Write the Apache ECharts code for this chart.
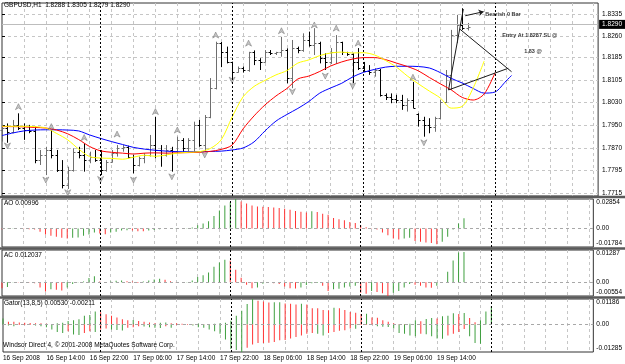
<!DOCTYPE html>
<html>
<head>
<meta charset="utf-8">
<script src="https://cdn.jsdelivr.net/npm/echarts@6/dist/echarts.min.js"></script>
<style>
  html, body { margin: 0; padding: 0; background: #fff; }
  #chart { width: 625px; height: 364px; }
</style>
</head>
<body>
<div id="chart"></div>
<script>
// GBPUSD H1, 16-19 Sep 2008, bars indexed from 16 Sep 06:00
const open = [1.7934,1.7941,1.7927,1.7952,1.7941,1.7934,1.7931,1.7830,1.7848,1.7865,
  1.7848,1.7796,1.7744,1.7796,1.7858,1.7848,1.7830,1.7841,1.7830,1.7796,
  1.7823,1.7855,1.7872,1.7875,1.7841,1.7813,1.7837,1.7848,1.7882,1.7865,
  1.7848,1.7865,1.7860,1.7900,1.7872,1.7900,1.7952,1.7882,1.7979,1.8080,
  1.8236,1.8204,1.8170,1.8135,1.8149,1.8142,1.8204,1.8177,1.8170,1.8204,
  1.8201,1.8204,1.8211,1.8114,1.8218,1.8211,1.8246,1.8229,1.8235,1.8184,
  1.8170,1.8204,1.8239,1.8204,1.8198,1.8170,1.8149,1.8140,1.8135,1.8142,
  1.8056,1.8049,1.8042,1.8038,1.8021,1.8038,1.7990,1.7969,1.7952,1.7945,
  1.7976,1.8031,1.8125,1.8263,1.8298,1.8288];
const high = [1.7952,1.7957,1.7969,1.7992,1.7957,1.7952,1.7946,1.7865,1.7876,1.7934,
  1.7865,1.7830,1.7807,1.7871,1.7876,1.7888,1.7859,1.7865,1.7865,1.7830,
  1.7865,1.7882,1.7882,1.7880,1.7848,1.7842,1.7854,1.7917,1.7980,1.7882,
  1.7882,1.7876,1.7911,1.7906,1.7906,1.7963,1.7969,1.7986,1.8114,1.8240,
  1.8239,1.8223,1.8171,1.8154,1.8154,1.8205,1.8210,1.8183,1.8211,1.8211,
  1.8205,1.8257,1.8217,1.8246,1.8223,1.8269,1.8275,1.8287,1.8240,1.8200,
  1.8218,1.8263,1.8240,1.8205,1.8200,1.8218,1.8170,1.8159,1.8148,1.8146,
  1.8061,1.8061,1.8056,1.8056,1.8044,1.8101,1.7992,1.7980,1.7975,1.7980,
  1.8038,1.8142,1.8281,1.8333,1.8356,1.8305];
const low = [1.7894,1.7890,1.7923,1.7934,1.7900,1.7923,1.7819,1.7813,1.7778,1.7836,
  1.7789,1.7732,1.7730,1.7790,1.7836,1.7790,1.7819,1.7824,1.7778,1.7790,
  1.7822,1.7842,1.7859,1.7836,1.7784,1.7808,1.7819,1.7842,1.7836,1.7807,
  1.7842,1.7790,1.7854,1.7859,1.7859,1.7859,1.7876,1.7859,1.7975,1.8075,
  1.8152,1.8165,1.8113,1.8133,1.8133,1.8136,1.8159,1.8142,1.8168,1.8194,
  1.8194,1.8188,1.8096,1.8079,1.8200,1.8205,1.8223,1.8194,1.8165,1.8142,
  1.8163,1.8163,1.8194,1.8191,1.8096,1.8142,1.8135,1.8125,1.8119,1.8050,
  1.8038,1.8027,1.8027,1.8004,1.7998,1.8010,1.7946,1.7911,1.7923,1.7928,
  1.7972,1.8028,1.8073,1.8235,1.8281,1.8279];
const close = [1.7941,1.7927,1.7952,1.7941,1.7934,1.7931,1.7830,1.7848,1.7865,1.7848,
  1.7796,1.7744,1.7796,1.7858,1.7848,1.7830,1.7841,1.7830,1.7796,1.7823,
  1.7855,1.7872,1.7875,1.7841,1.7813,1.7837,1.7848,1.7882,1.7865,1.7848,
  1.7865,1.7860,1.7900,1.7872,1.7900,1.7952,1.7882,1.7979,1.8080,1.8236,
  1.8204,1.8170,1.8135,1.8149,1.8142,1.8204,1.8177,1.8170,1.8204,1.8201,
  1.8204,1.8211,1.8114,1.8218,1.8211,1.8246,1.8229,1.8235,1.8184,1.8170,
  1.8204,1.8239,1.8204,1.8198,1.8170,1.8149,1.8140,1.8135,1.8142,1.8056,
  1.8049,1.8042,1.8038,1.8021,1.8038,1.8012,1.7969,1.7952,1.7945,1.7976,
  1.8031,1.8125,1.8263,1.8298,1.8288,1.8290];

// Alligator lines (shifted forward), sampled every 2 bars
const jawIdx = [0,2,4,6,8,10,12,14,16,18,20,22,24,26,28,30,32,34,36,38,40,42,44,46,48,
  50,52,54,56,58,60,62,64,66,68,70,72,74,76,78,80,82,84,86,88,90,92,93];
const jaw = [1.7915,1.7924,1.7931,1.7934,1.7935,1.7935,1.7934,1.7931,1.7917,1.7905,
  1.7894,1.7884,1.7874,1.7868,1.7864,1.7861,1.7859,1.7859,1.7859,1.7860,
  1.7861,1.7865,1.7872,1.7893,1.7931,1.7965,1.7988,1.8009,1.8033,1.8062,
  1.8080,1.8096,1.8118,1.8134,1.8144,1.8152,1.8155,1.8155,1.8154,1.8149,
  1.8133,1.8113,1.8097,1.8078,1.8062,1.8066,1.8104,1.8123];
const teethIdx = [0,2,4,6,8,10,12,14,16,18,20,22,24,26,28,30,32,34,36,38,40,42,44,46,48,
  50,52,54,56,58,60,62,64,66,68,70,72,74,76,78,80,82,84,86,88,90];
const teeth = [1.7946,1.7946,1.7945,1.7943,1.7941,1.7934,1.7921,1.7901,1.7877,1.7862,
  1.7857,1.7854,1.7851,1.7854,1.7855,1.7854,1.7855,1.7856,1.7857,1.7860,
  1.7867,1.7882,1.7938,1.7983,1.8021,1.8052,1.8078,1.8111,1.8121,1.8137,
  1.8156,1.8170,1.8180,1.8185,1.8185,1.8178,1.8166,1.8154,1.8139,1.8116,
  1.8094,1.8073,1.8047,1.8038,1.8059,1.8133];
const lipsIdx = [0,2,4,6,8,10,12,14,16,18,20,22,24,26,28,30,32,34,36,38,40,42,44,46,48,
  50,52,54,56,58,60,62,64,66,68,70,72,74,76,78,80,82,84,86,88];
const lips = [1.7947,1.7947,1.7947,1.7946,1.7941,1.7922,1.7900,1.7868,1.7842,1.7837,
  1.7836,1.7833,1.7840,1.7847,1.7843,1.7848,1.7854,1.7857,1.7859,1.7870,
  1.7900,1.7979,1.8049,1.8085,1.8106,1.8125,1.8140,1.8166,1.8177,1.8192,
  1.8201,1.8204,1.8201,1.8202,1.8194,1.8175,1.8152,1.8121,1.8094,1.8069,
  1.8045,1.8010,1.8016,1.8080,1.8173];

// Fractal arrows
const fracUpIdx = [3, 9, 15, 21, 28, 32, 39, 45, 51, 57, 61, 65, 75];
const fracUp = [1.8015,1.7946,1.7908,1.7920,1.7998,1.7934,1.8263,1.8235,1.8278,1.8298,1.8287,1.8235,1.8117];
const fracDnIdx = [1, 8, 12, 18, 24, 31, 37, 42, 53, 59, 64, 77];
const fracDn = [1.7879,1.7761,1.7717,1.7763,1.7761,1.7772,1.7848,1.8107,1.8067,1.8121,1.8087,1.7890];

// Hand-drawn objects
const trendLines = [
  [[81.5, 1.8073], [84.2, 1.8353]],
  [[83.6, 1.8283], [93.0, 1.8136]],
  [[81.5, 1.8073], [92.4, 1.8148]]
];
const arrowLine = [[84.55, 1.8330], [87.9, 1.8344]];
const noteText = ['Bearish 0 Bar', 'Entry At 1.8287 SL @', '1.83 @'];
const noteAt = [[88.2, 1.8333], [91.3, 1.8263], [95.3, 1.8205]];
const lastPrice = 1.8290;

// Indicators
const ao = [-0.0006,-0.0003,-0.0002,0.0001,-0.0002,-0.0006,-0.0010,-0.0032,-0.0057,-0.0070,
  -0.0080,-0.0089,-0.0096,-0.0089,-0.0086,-0.0070,-0.0057,-0.0038,-0.0048,-0.0054,
  -0.0038,-0.0032,-0.0019,-0.0016,-0.0019,-0.0026,-0.0027,-0.0019,-0.0013,-0.0006,
  -0.0003,-0.0005,-0.0003,0.0000,0.0003,0.0010,0.0032,0.0048,0.0070,0.0121,
  0.0175,0.0223,0.0255,0.02854,0.0262,0.0242,0.0223,0.0214,0.0211,0.0207,
  0.0204,0.0198,0.0191,0.0182,0.0169,0.0163,0.0156,0.0166,0.0160,0.0144,
  0.0134,0.0102,0.0089,0.0080,0.0064,0.0054,0.0032,0.0013,0.0003,-0.0010,
  -0.0038,-0.0064,-0.0096,-0.0105,-0.0096,-0.0089,-0.0121,-0.0128,-0.0134,-0.0140,
  -0.0153,-0.0128,-0.0080,-0.0010,0.0048,0.00996];
const ac = [-0.0024,-0.0019,-0.0001,-0.0001,0.0000,-0.0001,-0.0004,-0.0021,-0.0037,-0.0028,
  -0.0030,-0.0033,-0.0021,-0.0007,0.0001,0.0003,0.0017,0.0024,0.0003,0.0001,
  0.0003,0.0006,0.0007,0.0004,0.0003,-0.0003,0.0003,0.0007,0.0011,0.0014,
  0.0010,0.0004,0.0001,0.0000,0.0001,0.0007,0.0021,0.0028,0.0039,0.0062,
  0.0079,0.0090,0.0086,0.0050,0.0018,-0.0010,-0.0024,-0.0021,-0.0006,-0.0001,
  -0.0004,-0.0007,-0.0017,-0.0024,-0.0025,-0.0021,-0.0011,-0.0004,-0.0003,-0.0014,
  -0.0035,-0.0028,-0.0026,-0.0021,-0.0017,-0.0014,-0.0042,-0.0046,-0.0035,-0.0039,
  -0.0044,-0.0055,-0.0042,-0.0035,-0.0021,-0.0007,-0.0010,-0.0014,-0.0021,-0.0022,
  -0.0014,-0.0001,0.0042,0.0087,0.0119,0.012037];
const gatorUp = [0.0028,0.0013,0.0012,0.0009,0.0008,0.0007,0.0006,0.0005,0.0003,0.0002,
  0.0005,0.0008,0.0016,0.0019,0.0024,0.0040,0.0044,0.0060,0.0057,0.0047,
  0.0040,0.0032,0.0024,0.0019,0.0021,0.0016,0.0013,0.0009,0.0006,0.0008,
  0.0009,0.0006,0.0005,0.0003,0.0002,0.0001,0.0003,0.0002,0.0001,0.0003,
  0.0006,0.0008,0.0017,0.0040,0.0064,0.0095,0.01186,0.0110,0.0107,0.0102,
  0.0103,0.0104,0.0098,0.0097,0.0093,0.0096,0.0093,0.0076,0.0075,0.0067,
  0.0066,0.0078,0.0075,0.0067,0.0058,0.0054,0.0049,0.0050,0.0032,0.0031,
  0.0019,0.0013,0.0005,0.0002,0.0002,0.0003,0.0019,0.0015,0.0025,0.0030,
  0.0028,0.0038,0.0040,0.0052,0.0049,0.0053,0.0030,0.0010,0.0020,0.0060,
  0.0085];
const gatorDn = [-0.0002,-0.0005,-0.0008,-0.0003,-0.0003,-0.0003,-0.0005,-0.0008,-0.0013,-0.0024,
  -0.0035,-0.0040,-0.0032,-0.0047,-0.0049,-0.0040,-0.0032,-0.0035,-0.0024,-0.0019,
  -0.0024,-0.0026,-0.0028,-0.0016,-0.0013,-0.0008,-0.0010,-0.0013,-0.0016,-0.0017,
  -0.0008,-0.0016,-0.0003,-0.0002,-0.0001,-0.0005,-0.0013,-0.0016,-0.0024,-0.0032,
  -0.0043,-0.0070,-0.0114,-0.0119,-0.01285,-0.0109,-0.0093,-0.0087,-0.0086,-0.0085,
  -0.0082,-0.0074,-0.0072,-0.0066,-0.0058,-0.0051,-0.0043,-0.0040,-0.0043,-0.0051,
  -0.0040,-0.0035,-0.0030,-0.0027,-0.0019,-0.0020,-0.0003,-0.0003,-0.0001,-0.0008,
  -0.0011,-0.0012,-0.0019,-0.0040,-0.0043,-0.0051,-0.0055,-0.0043,-0.0046,-0.0055,
  -0.0066,-0.0067,-0.0051,-0.0043,-0.0035,-0.00211,-0.0055,-0.0087,-0.0090];

// Axes
const priceTicks = [1.7715, 1.7795, 1.7870, 1.7950, 1.8030, 1.8105, 1.8185, 1.8260, 1.8335];
const priceRange = [1.77056, 1.83741];
const aoRange = [-0.01784, 0.02854];
const acRange = [-0.00554, 0.01287];
const gatorRange = [-0.01285, 0.01186];
const timeIdx = [0, 8, 16, 24, 32, 40, 48, 56, 64, 72, 80];
const timeText = ['16 Sep 2008', '16 Sep 14:00', '16 Sep 22:00', '17 Sep 06:00', '17 Sep 14:00',
  '17 Sep 22:00', '18 Sep 06:00', '18 Sep 14:00', '18 Sep 22:00', '19 Sep 06:00', '19 Sep 14:00'];
const daySep = [18, 42, 66, 90];
const SLOTS = 108.8;

const FONT = 'Liberation Sans, Arial, sans-serif';
const NARROW = 'Liberation Sans Narrow, Liberation Sans, sans-serif';
const GREEN = '#3f9f3f';
const RED = '#ff3434';
const GRID_LINE = { type: [3, 3], color: '#c6c6c6', width: 1 };
const SEP_LINE = { type: [2, 2], color: '#000', width: 1 };
const ZERO_LINE = { type: [3, 3], color: '#a8a8a8', width: 1 };
const TXT = { fontSize: 6.5, color: '#000', fontFamily: FONT, fontWeight: 'normal' };

const gridLines = [];
for (let k = 4; k <= 108; k += 4) gridLines.push(k);

const chart = echarts.init(document.getElementById('chart'));

const panels = [
  { top: 3, height: 193 },
  { top: 199, height: 48 },
  { top: 250, height: 46 },
  { top: 299, height: 53 }
];

const xAxes = panels.map((p, g) => ({
  type: 'value', gridIndex: g, min: 0, max: SLOTS,
  axisLine: { show: false },
  axisTick: { show: false, customValues: gridLines },
  splitLine: { show: true, lineStyle: GRID_LINE },
  axisLabel: g === 3 ? {
    customValues: timeIdx, align: 'left', margin: 3, ...TXT,
    formatter: v => timeText[timeIdx.indexOf(v)] || ''
  } : { show: false }
}));

// min label sits above the bottom edge, max label hangs below the top edge; zero comes from the markLine
function indicatorAxis(g, range, digits) {
  const ticks = [range[0], range[1]];
  return {
    type: 'value', gridIndex: g, position: 'right', min: range[0], max: range[1],
    axisLine: { show: false },
    axisTick: { show: false, customValues: ticks },
    splitLine: { show: false },
    axisLabel: {
      customValues: ticks, margin: 3, ...TXT,
      verticalAlignMinLabel: 'bottom', verticalAlignMaxLabel: 'top',
      formatter: v => v.toFixed(digits)
    }
  };
}

const yAxes = [
  {
    type: 'value', gridIndex: 0, position: 'right', min: priceRange[0], max: priceRange[1],
    axisLine: { show: false },
    axisTick: { show: true, length: 3, customValues: priceTicks, lineStyle: { color: '#000' } },
    splitLine: { show: true, lineStyle: GRID_LINE },
    axisLabel: { customValues: priceTicks, margin: 4, ...TXT, formatter: v => v.toFixed(4) }
  },
  indicatorAxis(1, aoRange, 5),
  indicatorAxis(2, acRange, 5),
  indicatorAxis(3, gatorRange, 5)
];

function guides(withZero) {
  const data = daySep.map(x => ({ xAxis: x, lineStyle: SEP_LINE, label: { show: false } }));
  if (withZero) {
    data.push([
      { coord: [0, 0], lineStyle: ZERO_LINE,
        label: { show: true, position: 'end', distance: 3, formatter: '0.00', ...TXT } },
      { coord: [SLOTS, 0] }
    ]);
  }
  return { silent: true, symbol: 'none', animation: false, data };
}

function histo(values, grow) {
  return values.map((v, i) => {
    const prev = i > 0 ? values[i - 1] : null;
    let up;
    if (grow) up = prev === null || Math.abs(v) > Math.abs(prev);
    else up = prev !== null && v > prev;
    return { value: [i, v], itemStyle: { color: up ? GREEN : RED } };
  });
}

const ohlc = open.map((o, i) => [i, o, close[i], low[i], high[i]]);
const pairs = (idx, vals) => idx.map((x, i) => [x, vals[i]]);

function alligator(name, idx, vals, color, withGuides) {
  const s = {
    name, type: 'line', xAxisIndex: 0, yAxisIndex: 0,
    data: pairs(idx, vals), showSymbol: false, smooth: 0.3, z: 3,
    lineStyle: { color, width: 1 }, silent: true
  };
  if (withGuides) s.markLine = guides(false);
  return s;
}

const upArrow = 'path://M5,0 L10,10 L5,7 L0,10 Z';
const dnArrow = 'path://M0,0 L5,3 L10,0 L5,10 Z';

const option = {
  animation: false,
  backgroundColor: '#fff',
  grid: panels.map(p => ({
    left: 2, right: 25, top: p.top, height: p.height,
    show: true, borderColor: '#333', borderWidth: 1, backgroundColor: '#fff'
  })),
  xAxis: xAxes,
  yAxis: yAxes,
  title: [
    { text: 'GBPUSD,H1  1.8288 1.8305 1.8279 1.8290', left: 4, top: 2 },
    { text: 'AO 0.00996', left: 4, top: 200 },
    { text: 'AC 0.012037', left: 4, top: 252 },
    { text: 'Gator(13,8,5) 0.00530 -0.00211', left: 4, top: 300 },
    { text: 'Windsor Direct 4, \u00a9 2001-2008 MetaQuotes Software Corp.', left: 3, top: 342 }
  ].map(t => ({ ...t, padding: 0, textStyle: TXT })),
  graphic: [197, 248.5, 297.5].map(y => ({
    type: 'rect', silent: true, z: 100,
    shape: { x: 0, y: y - 1.2, width: 625, height: 2.4 },
    style: { fill: '#5a5a5a' }
  })),
  series: [
    {
      name: 'GBPUSD', type: 'custom', xAxisIndex: 0, yAxisIndex: 0, z: 2,
      data: ohlc, encode: { x: 0, y: [1, 2, 3, 4] },
      renderItem: (params, api) => {
        const x = api.value(0);
        const o = api.coord([x, api.value(1)]);
        const c = api.coord([x, api.value(2)]);
        const l = api.coord([x, api.value(3)]);
        const h = api.coord([x, api.value(4)]);
        const px = Math.round(h[0]) + 0.5;
        const color = api.value(2) > api.value(1) ? '#6e6e6e' : '#000';
        const st = { stroke: color, lineWidth: 1 };
        return {
          type: 'group', children: [
            { type: 'line', shape: { x1: px, y1: h[1], x2: px, y2: l[1] }, style: st },
            { type: 'line', shape: { x1: px - 2, y1: Math.round(o[1]) + 0.5, x2: px, y2: Math.round(o[1]) + 0.5 }, style: st },
            { type: 'line', shape: { x1: px, y1: Math.round(c[1]) + 0.5, x2: px + 2, y2: Math.round(c[1]) + 0.5 }, style: st }
          ]
        };
      },
      markLine: {
        silent: true, symbol: 'none', animation: false,
        data: [{
          yAxis: lastPrice,
          lineStyle: { color: '#bdbdbd', type: 'solid', width: 1 },
          label: {
            show: true, position: 'end', distance: 1, formatter: lastPrice.toFixed(4),
            backgroundColor: '#000', color: '#fff', padding: [1, 3, 1, 3],
            fontSize: 6.5, fontFamily: FONT
          }
        }]
      }
    },
    alligator('Jaw', jawIdx, jaw, '#0000ff', true),
    alligator('Teeth', teethIdx, teeth, '#ff0000', false),
    alligator('Lips', lipsIdx, lips, '#ffff00', false),
    {
      name: 'Fractal up', type: 'scatter', xAxisIndex: 0, yAxisIndex: 0, z: 4,
      data: pairs(fracUpIdx, fracUp), symbol: upArrow, symbolSize: [6, 6],
      itemStyle: { color: '#b8b8b8', borderColor: '#6a6a6a', borderWidth: 0.6 }, silent: true
    },
    {
      name: 'Fractal down', type: 'scatter', xAxisIndex: 0, yAxisIndex: 0, z: 4,
      data: pairs(fracDnIdx, fracDn), symbol: dnArrow, symbolSize: [6, 6],
      itemStyle: { color: '#b8b8b8', borderColor: '#6a6a6a', borderWidth: 0.6 }, silent: true
    },
    {
      name: 'Notes', type: 'scatter', xAxisIndex: 0, yAxisIndex: 0, z: 5, silent: true,
      symbolSize: 0,
      data: noteText.map((t, i) => ({ name: t, value: noteAt[i] })),
      label: {
        show: true, position: 'right', distance: 0, formatter: p => p.name,
        fontSize: 5.5, color: '#000', fontFamily: NARROW, fontWeight: 'bold'
      },
      markLine: {
        silent: true, symbol: 'none', animation: false, label: { show: false },
        lineStyle: { color: '#1a1a1a', width: 1, type: 'solid' },
        data: trendLines.map(seg => [{ coord: seg[0] }, { coord: seg[1] }]).concat([
          [{ coord: arrowLine[0], symbol: 'none' }, { coord: arrowLine[1], symbol: 'arrow', symbolSize: 5 }]
        ])
      }
    },
    {
      name: 'AO', type: 'bar', xAxisIndex: 1, yAxisIndex: 1, barWidth: 1, clip: false,
      data: histo(ao, false), markLine: guides(true), silent: true
    },
    {
      name: 'AC', type: 'bar', xAxisIndex: 2, yAxisIndex: 2, barWidth: 1, clip: false,
      data: histo(ac, false), markLine: guides(true), silent: true
    },
    {
      name: 'Gator up', type: 'bar', xAxisIndex: 3, yAxisIndex: 3, barWidth: 1, clip: false,
      data: histo(gatorUp, true), markLine: guides(true), silent: true
    },
    {
      name: 'Gator down', type: 'bar', xAxisIndex: 3, yAxisIndex: 3, barWidth: 1, barGap: '-100%', clip: false,
      data: histo(gatorDn, true), silent: true
    }
  ]
};

chart.setOption(option);
</script>
</body>
</html>
